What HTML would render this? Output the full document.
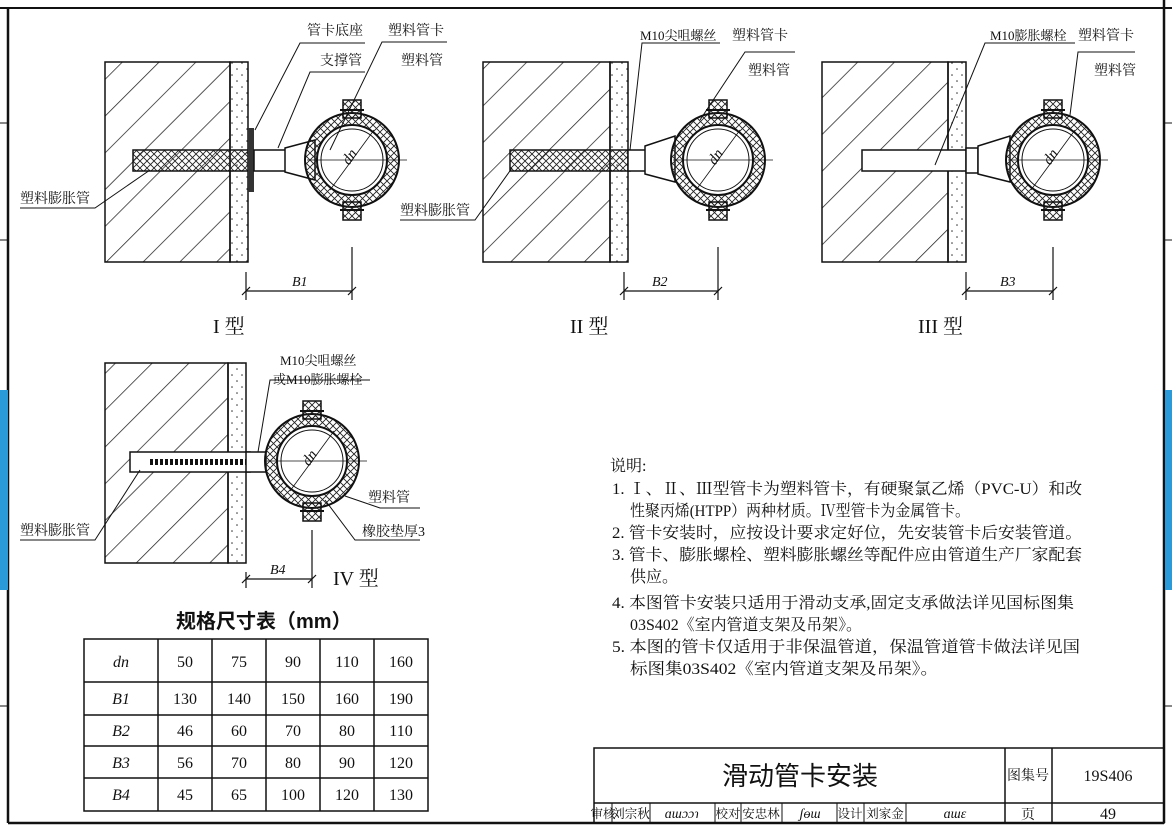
<!DOCTYPE html>
<html><head><meta charset="utf-8"><style>
body{margin:0;background:#fff;}
svg{display:block;font-family:"Liberation Serif","Noto Serif CJK SC",serif;}
.t{font-family:"Liberation Serif","Noto Serif CJK SC",serif;font-size:14px;fill:#111;}
.n{font-size:16px;}
</style></head><body>
<svg width="1172" height="833" viewBox="0 0 1172 833" xmlns="http://www.w3.org/2000/svg">
<defs>
<pattern id="h" width="26" height="26" patternUnits="userSpaceOnUse" patternTransform="rotate(-45)">
<line x1="0" y1="0" x2="26" y2="0" stroke="#222" stroke-width="1.6"/></pattern>
<pattern id="d" width="10" height="12" patternUnits="userSpaceOnUse">
<circle cx="2" cy="3" r="0.8" fill="#333"/><circle cx="7" cy="9" r="0.8" fill="#333"/></pattern>
<pattern id="x" width="7" height="7" patternUnits="userSpaceOnUse">
<path d="M0 0L7 7M7 0L0 7" stroke="#222" stroke-width="0.9"/></pattern>
<g id="clamp">
<circle r="47" fill="url(#x)" stroke="#111" stroke-width="2"/>
<circle r="35" fill="#fff" stroke="#111" stroke-width="2"/>
<circle r="31" fill="none" stroke="#111" stroke-width="1"/>
<rect x="-9" y="-60" width="18" height="18" fill="url(#x)" stroke="#111" stroke-width="1.5"/>
<rect x="-9" y="42" width="18" height="18" fill="url(#x)" stroke="#111" stroke-width="1.5"/>
<line x1="-12" y1="-50" x2="12" y2="-50" stroke="#111" stroke-width="2"/>
<line x1="-12" y1="50" x2="12" y2="50" stroke="#111" stroke-width="2"/>
<line x1="-45" y1="0" x2="55" y2="0" stroke="#111" stroke-width="0.8"/>
<line x1="-22" y1="30" x2="22" y2="-30" stroke="#111" stroke-width="0.8"/>
<text x="-8" y="4" transform="rotate(-55 -4 0)" class="t" style="font-style:italic;font-size:15px">dn</text>
</g>
</defs>
<rect width="1172" height="833" fill="#fff"/>
<line x1="0" y1="8" x2="1172" y2="8" stroke="#111" stroke-width="2"/>
<line x1="8" y1="8" x2="8" y2="823" stroke="#111" stroke-width="2.5"/>
<line x1="1164" y1="0" x2="1164" y2="823" stroke="#111" stroke-width="2.5"/>
<line x1="8" y1="823" x2="1164" y2="823" stroke="#111" stroke-width="2.5"/>
<rect x="0" y="390" width="8" height="200" fill="#2a9ad8"/>
<rect x="1165" y="390" width="7" height="200" fill="#2a9ad8"/>
<g stroke="#111" stroke-width="1"><line x1="0" y1="123" x2="8" y2="123"/><line x1="0" y1="240" x2="8" y2="240"/><line x1="0" y1="706" x2="8" y2="706"/><line x1="1164" y1="123" x2="1172" y2="123"/><line x1="1164" y1="240" x2="1172" y2="240"/><line x1="1164" y1="706" x2="1172" y2="706"/></g>

<!-- Type I -->
<rect x="105" y="62" width="125" height="200" fill="url(#h)" stroke="#111" stroke-width="1.5"/>
<rect x="230" y="62" width="18" height="200" fill="url(#d)" stroke="#111" stroke-width="1.5"/>
<rect x="133" y="150" width="120" height="21" fill="url(#x)" stroke="#111" stroke-width="1.5"/>
<rect x="248" y="128" width="6" height="64" fill="#333"/>
<rect x="254" y="150" width="48" height="21" fill="#fff" stroke="#111" stroke-width="1.5"/>
<path d="M285 148L315 140L315 180L285 172Z" fill="#fff" stroke="#111" stroke-width="1.5"/>
<use href="#clamp" x="352" y="160"/>
<path d="M255 130L300 43H365M278 148L310 72H365M330 150L382 42H447" fill="none" stroke="#111" stroke-width="1"/>
<text x="307" y="35" class="t">管卡底座</text><text x="320" y="65" class="t">支撑管</text>
<text x="388" y="35" class="t">塑料管卡</text><text x="401" y="65" class="t">塑料管</text>
<path d="M20 208H95L150 170" fill="none" stroke="#111" stroke-width="1"/>
<text x="20" y="203" class="t">塑料膨胀管</text>
<g stroke="#111" stroke-width="1.2"><line x1="246" y1="272" x2="246" y2="300"/><line x1="352" y1="247" x2="352" y2="300"/><line x1="246" y1="291" x2="352" y2="291"/><line x1="242" y1="295" x2="250" y2="287"/><line x1="348" y1="295" x2="356" y2="287"/></g>
<text x="292" y="286" class="t" style="font-style:italic">B1</text>
<text x="213" y="333" class="t" style="font-size:20px">I 型</text>

<!-- Type II -->
<rect x="483" y="62" width="127" height="200" fill="url(#h)" stroke="#111" stroke-width="1.5"/>
<rect x="610" y="62" width="18" height="200" fill="url(#d)" stroke="#111" stroke-width="1.5"/>
<rect x="510" y="150" width="120" height="21" fill="url(#x)" stroke="#111" stroke-width="1.5"/>
<rect x="628" y="150" width="30" height="21" fill="#fff" stroke="#111" stroke-width="1.5"/>
<path d="M645 146L675 136L675 182L645 174Z" fill="#fff" stroke="#111" stroke-width="1.5"/>
<use href="#clamp" x="718" y="160"/>
<path d="M630 150L642 43H720M700 120L745 52H795" fill="none" stroke="#111" stroke-width="1"/>
<text x="640" y="40" class="t" style="font-size:13px">M10尖咀螺丝</text><text x="732" y="40" class="t">塑料管卡</text>
<text x="748" y="75" class="t">塑料管</text>
<path d="M400 220H475L512 168" fill="none" stroke="#111" stroke-width="1"/>
<text x="400" y="215" class="t">塑料膨胀管</text>
<g stroke="#111" stroke-width="1.2"><line x1="624" y1="272" x2="624" y2="300"/><line x1="718" y1="247" x2="718" y2="300"/><line x1="624" y1="291" x2="718" y2="291"/><line x1="620" y1="295" x2="628" y2="287"/><line x1="714" y1="295" x2="722" y2="287"/></g>
<text x="652" y="286" class="t" style="font-style:italic">B2</text>
<text x="570" y="333" class="t" style="font-size:20px">II 型</text>

<!-- Type III -->
<rect x="822" y="62" width="126" height="200" fill="url(#h)" stroke="#111" stroke-width="1.5"/>
<rect x="948" y="62" width="18" height="200" fill="url(#d)" stroke="#111" stroke-width="1.5"/>
<rect x="862" y="150" width="104" height="21" fill="#fff" stroke="#111" stroke-width="1.5"/>
<rect x="966" y="148" width="12" height="25" fill="#fff" stroke="#111" stroke-width="1.5"/>
<path d="M978 146L1010 136L1010 182L978 174Z" fill="#fff" stroke="#111" stroke-width="1.5"/>
<use href="#clamp" x="1053" y="160"/>
<path d="M935 165L985 43H1075M1070 115L1078 52H1135" fill="none" stroke="#111" stroke-width="1"/>
<text x="990" y="40" class="t" style="font-size:13px">M10膨胀螺栓</text><text x="1078" y="40" class="t">塑料管卡</text>
<text x="1094" y="75" class="t">塑料管</text>
<g stroke="#111" stroke-width="1.2"><line x1="966" y1="272" x2="966" y2="300"/><line x1="1053" y1="247" x2="1053" y2="300"/><line x1="966" y1="291" x2="1053" y2="291"/><line x1="962" y1="295" x2="970" y2="287"/><line x1="1049" y1="295" x2="1057" y2="287"/></g>
<text x="1000" y="286" class="t" style="font-style:italic">B3</text>
<text x="918" y="333" class="t" style="font-size:20px">III 型</text>

<!-- Type IV -->
<rect x="105" y="363" width="123" height="200" fill="url(#h)" stroke="#111" stroke-width="1.5"/>
<rect x="228" y="363" width="18" height="200" fill="url(#d)" stroke="#111" stroke-width="1.5"/>
<rect x="130" y="452" width="120" height="20" fill="#fff" stroke="#111" stroke-width="1.5"/>
<path d="M150 462h100" stroke="#111" stroke-width="6" stroke-dasharray="3 2"/>
<rect x="246" y="452" width="20" height="20" fill="#fff" stroke="#111" stroke-width="1.5"/>
<use href="#clamp" x="312" y="461"/>
<path d="M258 452L270 380H370M345 496L380 508H420M325 500L355 540H420" fill="none" stroke="#111" stroke-width="1"/>
<text x="280" y="365" class="t" style="font-size:13px">M10尖咀螺丝</text>
<text x="273" y="384" class="t" style="font-size:13px">或M10膨胀螺栓</text>
<text x="368" y="502" class="t">塑料管</text><text x="362" y="536" class="t">橡胶垫厚3</text>
<path d="M20 540H95L140 470" fill="none" stroke="#111" stroke-width="1"/>
<text x="20" y="535" class="t">塑料膨胀管</text>
<g stroke="#111" stroke-width="1.2"><line x1="246" y1="572" x2="246" y2="588"/><line x1="312" y1="530" x2="312" y2="588"/><line x1="246" y1="579" x2="312" y2="579"/><line x1="242" y1="583" x2="250" y2="575"/><line x1="308" y1="583" x2="316" y2="575"/></g>
<text x="270" y="574" class="t" style="font-style:italic">B4</text>
<text x="333" y="585" class="t" style="font-size:20px">IV 型</text>

<!-- table -->
<text x="176" y="628" style="font-family:'Liberation Sans','Noto Sans CJK SC',sans-serif;font-size:20px;font-weight:bold" fill="#111">规格尺寸表（mm）</text>
<g stroke="#111" stroke-width="1.5" fill="none">
<rect x="84" y="639" width="344" height="172"/>
<line x1="84" y1="682" x2="428" y2="682"/><line x1="84" y1="715" x2="428" y2="715"/><line x1="84" y1="746" x2="428" y2="746"/><line x1="84" y1="778" x2="428" y2="778"/>
<line x1="158" y1="639" x2="158" y2="811"/><line x1="212" y1="639" x2="212" y2="811"/><line x1="266" y1="639" x2="266" y2="811"/><line x1="320" y1="639" x2="320" y2="811"/><line x1="374" y1="639" x2="374" y2="811"/>
</g>
<g class="t n" text-anchor="middle">
<text x="121" y="667" style="font-style:italic">dn</text><text x="185" y="667">50</text><text x="239" y="667">75</text><text x="293" y="667">90</text><text x="347" y="667">110</text><text x="401" y="667">160</text>
<text x="121" y="704" style="font-style:italic">B1</text><text x="185" y="704">130</text><text x="239" y="704">140</text><text x="293" y="704">150</text><text x="347" y="704">160</text><text x="401" y="704">190</text>
<text x="121" y="736" style="font-style:italic">B2</text><text x="185" y="736">46</text><text x="239" y="736">60</text><text x="293" y="736">70</text><text x="347" y="736">80</text><text x="401" y="736">110</text>
<text x="121" y="768" style="font-style:italic">B3</text><text x="185" y="768">56</text><text x="239" y="768">70</text><text x="293" y="768">80</text><text x="347" y="768">90</text><text x="401" y="768">120</text>
<text x="121" y="800" style="font-style:italic">B4</text><text x="185" y="800">45</text><text x="239" y="800">65</text><text x="293" y="800">100</text><text x="347" y="800">120</text><text x="401" y="800">130</text>
</g>

<!-- notes -->
<g class="t" style="font-size:16px">
<text x="610" y="471">说明:</text>
<text x="612" y="494" textLength="470" lengthAdjust="spacingAndGlyphs">1. Ⅰ、Ⅱ、Ⅲ型管卡为塑料管卡，有硬聚氯乙烯（PVC-U）和改</text>
<text x="630" y="516" textLength="340" lengthAdjust="spacingAndGlyphs">性聚丙烯(HTPP）两种材质。Ⅳ型管卡为金属管卡。</text>
<text x="612" y="538" textLength="470" lengthAdjust="spacingAndGlyphs">2. 管卡安装时，应按设计要求定好位，先安装管卡后安装管道。</text>
<text x="612" y="560" textLength="470" lengthAdjust="spacingAndGlyphs">3. 管卡、膨胀螺栓、塑料膨胀螺丝等配件应由管道生产厂家配套</text>
<text x="630" y="582">供应。</text>
<text x="612" y="608" textLength="462" lengthAdjust="spacingAndGlyphs">4. 本图管卡安装只适用于滑动支承,固定支承做法详见国标图集</text>
<text x="630" y="630" textLength="232" lengthAdjust="spacingAndGlyphs">03S402《室内管道支架及吊架》。</text>
<text x="612" y="652" textLength="468" lengthAdjust="spacingAndGlyphs">5. 本图的管卡仅适用于非保温管道，保温管道管卡做法详见国</text>
<text x="630" y="674" textLength="308" lengthAdjust="spacingAndGlyphs">标图集03S402《室内管道支架及吊架》。</text>
</g>

<!-- title block -->
<g stroke="#111" stroke-width="1.5" fill="none">
<rect x="594" y="748" width="570" height="75"/>
<line x1="594" y1="803" x2="1164" y2="803"/>
<line x1="1005" y1="748" x2="1005" y2="823"/><line x1="1052" y1="748" x2="1052" y2="823"/>
<g stroke-width="1"><line x1="612" y1="803" x2="612" y2="823"/><line x1="650" y1="803" x2="650" y2="823"/><line x1="715" y1="803" x2="715" y2="823"/><line x1="741" y1="803" x2="741" y2="823"/><line x1="782" y1="803" x2="782" y2="823"/><line x1="837" y1="803" x2="837" y2="823"/><line x1="864" y1="803" x2="864" y2="823"/><line x1="906" y1="803" x2="906" y2="823"/></g>
</g>
<text x="800" y="785" text-anchor="middle" style="font-family:'Liberation Sans','Noto Sans CJK SC',sans-serif;font-size:26px" fill="#111">滑动管卡安装</text>
<g class="t" style="font-size:14px" text-anchor="middle">
<text x="1028" y="780">图集号</text><text x="1108" y="781" style="font-size:16px">19S406</text>
<g style="font-size:12.5px"><text x="603" y="818">审核</text><text x="631" y="818">刘宗秋</text><text x="728" y="818">校对</text><text x="761" y="818">安忠林</text>
<text x="850" y="818">设计</text><text x="885" y="818">刘家金</text></g><text x="1028" y="819">页</text><text x="1108" y="819" style="font-size:16px">49</text>
<text x="682" y="818" style="font-style:italic">ɑɯɔɔɿ</text><text x="810" y="818" style="font-style:italic">ʃɵɯ</text><text x="955" y="818" style="font-style:italic">ɑɯɛ</text>
</g>
</svg>
</body></html>
